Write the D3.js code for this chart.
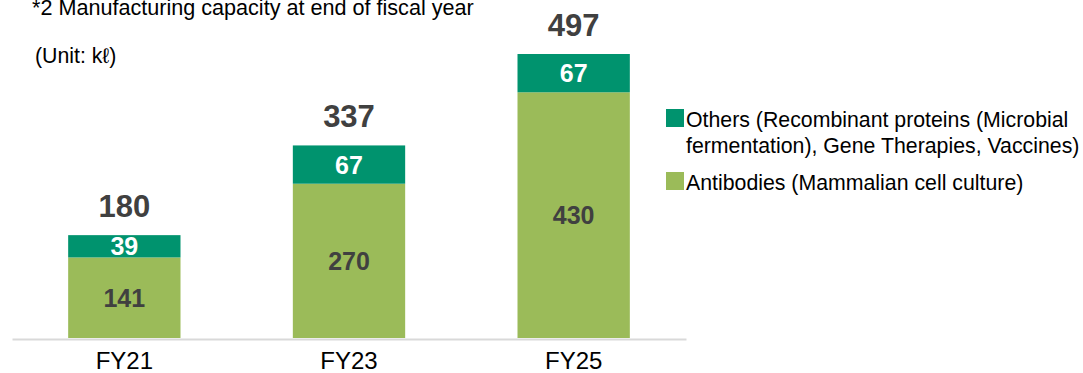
<!DOCTYPE html>
<html>
<head>
<meta charset="utf-8">
<script src="https://cdn.jsdelivr.net/npm/d3@7"></script>
<style>
  html, body { margin: 0; padding: 0; background: #fff; }
  svg { display: block; font-family: "Liberation Sans", Arial, sans-serif; }
</style>
</head>
<body>
<svg id="chart" width="1083" height="373"></svg>
<script>
// Manufacturing capacity by fiscal year (kℓ)
const categories = ["FY21", "FY23", "FY25"];
const antibodies = [141, 270, 430];
const others = [39, 67, 67];
const totals = [180, 337, 497];
const seriesNames = [
  "Others (Recombinant proteins (Microbial",
  "fermentation), Gene Therapies, Vaccines)",
  "Antibodies (Mammalian cell culture)"
];

const colAntibodies = "#9BBB59";
const colOthers = "#00936E";
const textDark = "#404040";
const smallFont = 21.3;

const svg = d3.select("#chart");

const x = d3.scaleBand()
  .domain(categories)
  .range([12, 686])
  .paddingInner(0.5)
  .paddingOuter(0.25);

const y = d3.scaleLinear()
  .domain([0, 497])
  .range([338, 54]);

const rows = categories.map((c, i) => ({
  cat: c, a: antibodies[i], o: others[i], t: totals[i]
}));

const stack = d3.stack().keys(["a", "o"])(rows);
const colors = { a: colAntibodies, o: colOthers };

// stacked bars
const layers = svg.append("g").selectAll("g")
  .data(stack)
  .join("g")
  .attr("fill", d => colors[d.key]);

layers.selectAll("rect")
  .data(d => d)
  .join("rect")
  .attr("x", d => x(d.data.cat))
  .attr("width", x.bandwidth())
  .attr("y", d => y(d[1]))
  .attr("height", d => y(d[0]) - y(d[1]));

// segment labels
layers.each(function(layer) {
  d3.select(this).selectAll("text")
    .data(layer)
    .join("text")
    .attr("x", d => x(d.data.cat) + x.bandwidth() / 2)
    .attr("y", d => (y(d[0]) + y(d[1])) / 2)
    .attr("dy", "0.36em")
    .attr("text-anchor", "middle")
    .attr("font-weight", "bold")
    .attr("font-size", 25)
    .attr("fill", layer.key === "o" ? "#ffffff" : textDark)
    .text(d => d[1] - d[0]);
});

// total labels above bars
svg.append("g").selectAll("text")
  .data(rows)
  .join("text")
  .attr("x", d => x(d.cat) + x.bandwidth() / 2)
  .attr("y", d => y(d.t) - 18)
  .attr("text-anchor", "middle")
  .attr("font-weight", "bold")
  .attr("font-size", 31)
  .attr("fill", textDark)
  .text(d => d.t);

// category axis
const axis = svg.append("g")
  .attr("transform", `translate(0,${y(0) + 1})`)
  .call(d3.axisBottom(x).tickSize(0).tickPadding(13));
axis.select(".domain").attr("stroke", "#d9d9d9").attr("stroke-width", 2);
axis.selectAll("text")
  .attr("font-family", "Liberation Sans, Arial, sans-serif")
  .attr("font-size", 24)
  .attr("fill", "#000");

// note and unit
svg.append("text")
  .attr("x", 32).attr("y", 15)
  .attr("font-size", 21.6).attr("fill", "#000")
  .text("*2 Manufacturing capacity at end of fiscal year");
svg.append("text")
  .attr("x", 35).attr("y", 63)
  .attr("font-size", smallFont).attr("fill", "#000")
  .text("(Unit: kℓ)");

// legend
const legend = svg.append("g");
legend.append("rect")
  .attr("x", 666).attr("y", 109).attr("width", 18).attr("height", 18)
  .attr("fill", colOthers);
legend.append("text")
  .attr("x", 686).attr("y", 127)
  .attr("font-size", smallFont).attr("fill", "#000")
  .text(seriesNames[0]);
legend.append("text")
  .attr("x", 686).attr("y", 153)
  .attr("font-size", smallFont).attr("fill", "#000")
  .text(seriesNames[1]);
legend.append("rect")
  .attr("x", 666).attr("y", 172).attr("width", 18).attr("height", 18)
  .attr("fill", colAntibodies);
legend.append("text")
  .attr("x", 686).attr("y", 190)
  .attr("font-size", smallFont).attr("fill", "#000")
  .text(seriesNames[2]);
</script>
</body>
</html>
